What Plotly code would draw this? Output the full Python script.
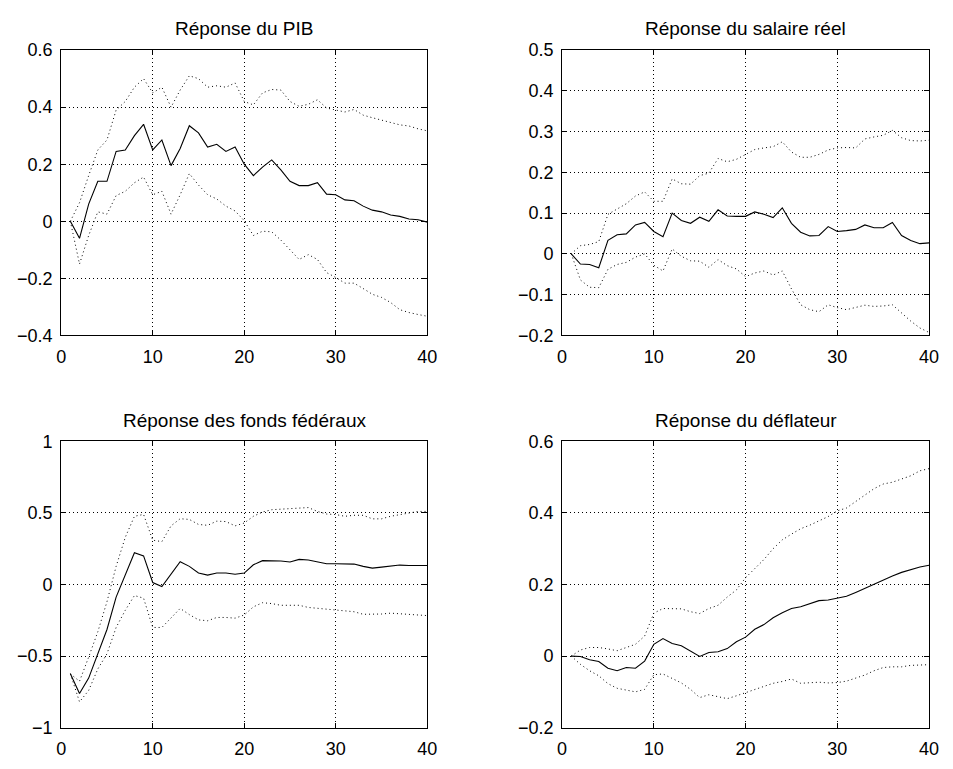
import plotly.graph_objects as go

# ---------------- data ----------------
horizon = list(range(1, 41))

pib_irf = [0.0, -0.06, 0.06, 0.14, 0.14, 0.245, 0.25, 0.30, 0.34, 0.25,
           0.285, 0.195, 0.255, 0.335, 0.31, 0.26, 0.27, 0.245, 0.26, 0.20,
           0.16, 0.19, 0.215, 0.18, 0.14, 0.125, 0.125, 0.135, 0.095, 0.093,
           0.075, 0.072, 0.053, 0.039, 0.033, 0.022, 0.017, 0.008, 0.005, -0.003]
pib_upper = [0.0, 0.065, 0.16, 0.25, 0.285, 0.39, 0.42, 0.47, 0.50, 0.45,
             0.47, 0.40, 0.46, 0.51, 0.50, 0.47, 0.475, 0.47, 0.485, 0.42,
             0.408, 0.45, 0.462, 0.46, 0.42, 0.403, 0.41, 0.426, 0.397, 0.389,
             0.383, 0.392, 0.372, 0.363, 0.355, 0.347, 0.338, 0.334, 0.324, 0.317]
pib_lower = [0.0, -0.15, -0.05, 0.033, 0.025, 0.09, 0.105, 0.135, 0.155, 0.093,
             0.105, 0.025, 0.093, 0.167, 0.127, 0.093, 0.078, 0.053, 0.036, 0.002,
             -0.05, -0.035, -0.037, -0.066, -0.10, -0.134, -0.117, -0.134, -0.18, -0.197,
             -0.217, -0.217, -0.236, -0.256, -0.267, -0.285, -0.31, -0.32, -0.327, -0.333]

sal_irf = [0.0, -0.025, -0.026, -0.034, 0.033, 0.047, 0.049, 0.071, 0.077, 0.055,
           0.042, 0.10, 0.082, 0.075, 0.09, 0.08, 0.108, 0.093, 0.092, 0.092,
           0.103, 0.097, 0.089, 0.113, 0.075, 0.053, 0.044, 0.045, 0.067, 0.055,
           0.057, 0.06, 0.071, 0.064, 0.064, 0.077, 0.045, 0.033, 0.025, 0.027]
sal_upper = [0.0, 0.02, 0.023, 0.03, 0.097, 0.111, 0.123, 0.142, 0.152, 0.129,
             0.129, 0.184, 0.172, 0.171, 0.192, 0.198, 0.234, 0.226, 0.232, 0.244,
             0.256, 0.26, 0.263, 0.275, 0.25, 0.237, 0.237, 0.244, 0.255, 0.26,
             0.261, 0.26, 0.282, 0.287, 0.291, 0.303, 0.285, 0.278, 0.277, 0.279]
sal_lower = [0.0, -0.064, -0.082, -0.083, -0.038, -0.026, -0.021, -0.008, 0.0, -0.028,
             -0.042, 0.012, -0.006, -0.017, -0.018, -0.033, -0.014, -0.029, -0.037, -0.056,
             -0.047, -0.042, -0.052, -0.042, -0.086, -0.125, -0.137, -0.142, -0.125, -0.132,
             -0.137, -0.131, -0.126, -0.129, -0.128, -0.125, -0.145, -0.165, -0.182, -0.193]

ff_irf = [-0.624, -0.762, -0.654, -0.484, -0.314, -0.088, 0.07, 0.222, 0.20, 0.014,
          -0.014, 0.077, 0.16, 0.127, 0.081, 0.066, 0.081, 0.081, 0.072, 0.08,
          0.138, 0.167, 0.167, 0.165, 0.158, 0.176, 0.172, 0.16, 0.145, 0.145,
          0.145, 0.143, 0.127, 0.115, 0.122, 0.131, 0.136, 0.133, 0.133, 0.133]
ff_upper = [-0.624, -0.676, -0.507, -0.33, -0.12, 0.127, 0.33, 0.477, 0.49, 0.31,
            0.30, 0.41, 0.46, 0.455, 0.42, 0.414, 0.443, 0.44, 0.41, 0.43,
            0.477, 0.507, 0.523, 0.527, 0.534, 0.538, 0.538, 0.511, 0.493, 0.489,
            0.477, 0.484, 0.484, 0.459, 0.459, 0.477, 0.489, 0.50, 0.511, 0.511]
ff_lower = [-0.624, -0.82, -0.74, -0.59, -0.484, -0.30, -0.18, -0.077, -0.095, -0.30,
            -0.30, -0.235, -0.167, -0.21, -0.247, -0.253, -0.23, -0.23, -0.235, -0.213,
            -0.156, -0.127, -0.133, -0.145, -0.145, -0.145, -0.16, -0.167, -0.174, -0.179,
            -0.183, -0.19, -0.208, -0.208, -0.206, -0.2, -0.204, -0.208, -0.213, -0.217]

def_irf = [0.0, -0.001, -0.01, -0.015, -0.034, -0.041, -0.032, -0.034, -0.014, 0.033,
           0.049, 0.035, 0.029, 0.014, -0.001, 0.01, 0.012, 0.021, 0.04, 0.053,
           0.075, 0.088, 0.107, 0.121, 0.133, 0.138, 0.146, 0.155, 0.157, 0.162,
           0.167, 0.178, 0.19, 0.201, 0.212, 0.224, 0.234, 0.242, 0.249, 0.254]
def_upper = [0.0, 0.017, 0.024, 0.024, 0.02, 0.015, 0.024, 0.033, 0.056, 0.12,
             0.133, 0.133, 0.132, 0.124, 0.119, 0.133, 0.142, 0.165, 0.185, 0.219,
             0.245, 0.27, 0.30, 0.325, 0.341, 0.356, 0.366, 0.377, 0.39, 0.406,
             0.414, 0.432, 0.45, 0.468, 0.481, 0.486, 0.495, 0.504, 0.518, 0.524]
def_lower = [0.0, -0.023, -0.041, -0.055, -0.077, -0.09, -0.095, -0.10, -0.093, -0.052,
             -0.05, -0.062, -0.075, -0.093, -0.116, -0.108, -0.114, -0.119, -0.111, -0.102,
             -0.094, -0.086, -0.076, -0.071, -0.064, -0.076, -0.075, -0.073, -0.075, -0.074,
             -0.07, -0.062, -0.053, -0.041, -0.032, -0.03, -0.03, -0.026, -0.026, -0.024]

titles = ["Réponse du PIB", "Réponse du salaire réel",
          "Réponse des fonds fédéraux", "Réponse du déflateur"]

x_ticks = [0, 10, 20, 30, 40]
y_ticks = [
    [-0.4, -0.2, 0, 0.2, 0.4, 0.6],
    [-0.2, -0.1, 0, 0.1, 0.2, 0.3, 0.4, 0.5],
    [-1, -0.5, 0, 0.5, 1],
    [-0.2, 0, 0.2, 0.4, 0.6],
]
y_ticktext = [
    ["−0.4", "−0.2", "0", "0.2", "0.4", "0.6"],
    ["−0.2", "−0.1", "0", "0.1", "0.2", "0.3", "0.4", "0.5"],
    ["−1", "−0.5", "0", "0.5", "1"],
    ["−0.2", "0", "0.2", "0.4", "0.6"],
]

series = [
    (pib_irf, pib_upper, pib_lower),
    (sal_irf, sal_upper, sal_lower),
    (ff_irf, ff_upper, ff_lower),
    (def_irf, def_upper, def_lower),
]

# ---------------- layout geometry ----------------
# The page body keeps its default 8px margin, so the figure is drawn 8px in;
# geometry below is given in window pixels and shifted by that offset.
OFF = 8
W, H = 937, 753


def px_x(p):
    return (p - OFF) / W


def px_y(p):
    return 1 - (p - OFF) / H


xdom = [[px_x(57), px_x(429)], [px_x(566), px_x(939)]]
ydom = [[px_y(334), px_y(41)], [px_y(737), px_y(443)]]
title_y = [px_y(18.5), px_y(421.7)]

FONT = "Liberation Sans, Arial, Helvetica, sans-serif"

fig = go.Figure()
annotations = []
for i in range(4):
    r, c = divmod(i, 2)
    xa = "x" if i == 0 else f"x{i+1}"
    ya = "y" if i == 0 else f"y{i+1}"
    irf, up, lo = series[i]
    for vals in (up, lo):
        fig.add_trace(go.Scatter(x=horizon, y=vals, mode="lines", xaxis=xa, yaxis=ya,
                                 line=dict(color="#000000", width=1, dash="1px,3px"),
                                 showlegend=False, hoverinfo="skip"))
    fig.add_trace(go.Scatter(x=horizon, y=irf, mode="lines", xaxis=xa, yaxis=ya,
                             line=dict(color="#000000", width=1.1),
                             showlegend=False))
    axis_common = dict(
        showline=True, linecolor="black", linewidth=1, mirror="ticks",
        ticks="inside", ticklen=5, tickcolor="black", tickwidth=1,
        showgrid=True, gridcolor="#000000", gridwidth=1, griddash="1px,3px",
        zeroline=False, tickfont=dict(family=FONT, size=18, color="black"),
    )
    fig.update_layout(**{
        ("xaxis" if i == 0 else f"xaxis{i+1}"): dict(
            domain=xdom[c], anchor=ya, range=[0, 40],
            tickmode="array", tickvals=x_ticks, ticktext=[str(v) for v in x_ticks],
            ticklabelstandoff=5, **axis_common),
        ("yaxis" if i == 0 else f"yaxis{i+1}"): dict(
            domain=ydom[r], anchor=xa, range=[y_ticks[i][0], y_ticks[i][-1]],
            tickmode="array", tickvals=y_ticks[i], ticktext=y_ticktext[i],
            ticklabelstandoff=4, **axis_common),
    })
    annotations.append(dict(
        text=titles[i], xref="paper", yref="paper",
        x=(xdom[c][0] + xdom[c][1]) / 2, y=title_y[r],
        xanchor="center", yanchor="middle", showarrow=False,
        font=dict(family=FONT, size=19, color="black")))

fig.update_layout(
    width=W, height=H, margin=dict(l=0, r=0, t=0, b=0),
    paper_bgcolor="white", plot_bgcolor="white",
    annotations=annotations, showlegend=False,
)

fig.write_html("out.html")
